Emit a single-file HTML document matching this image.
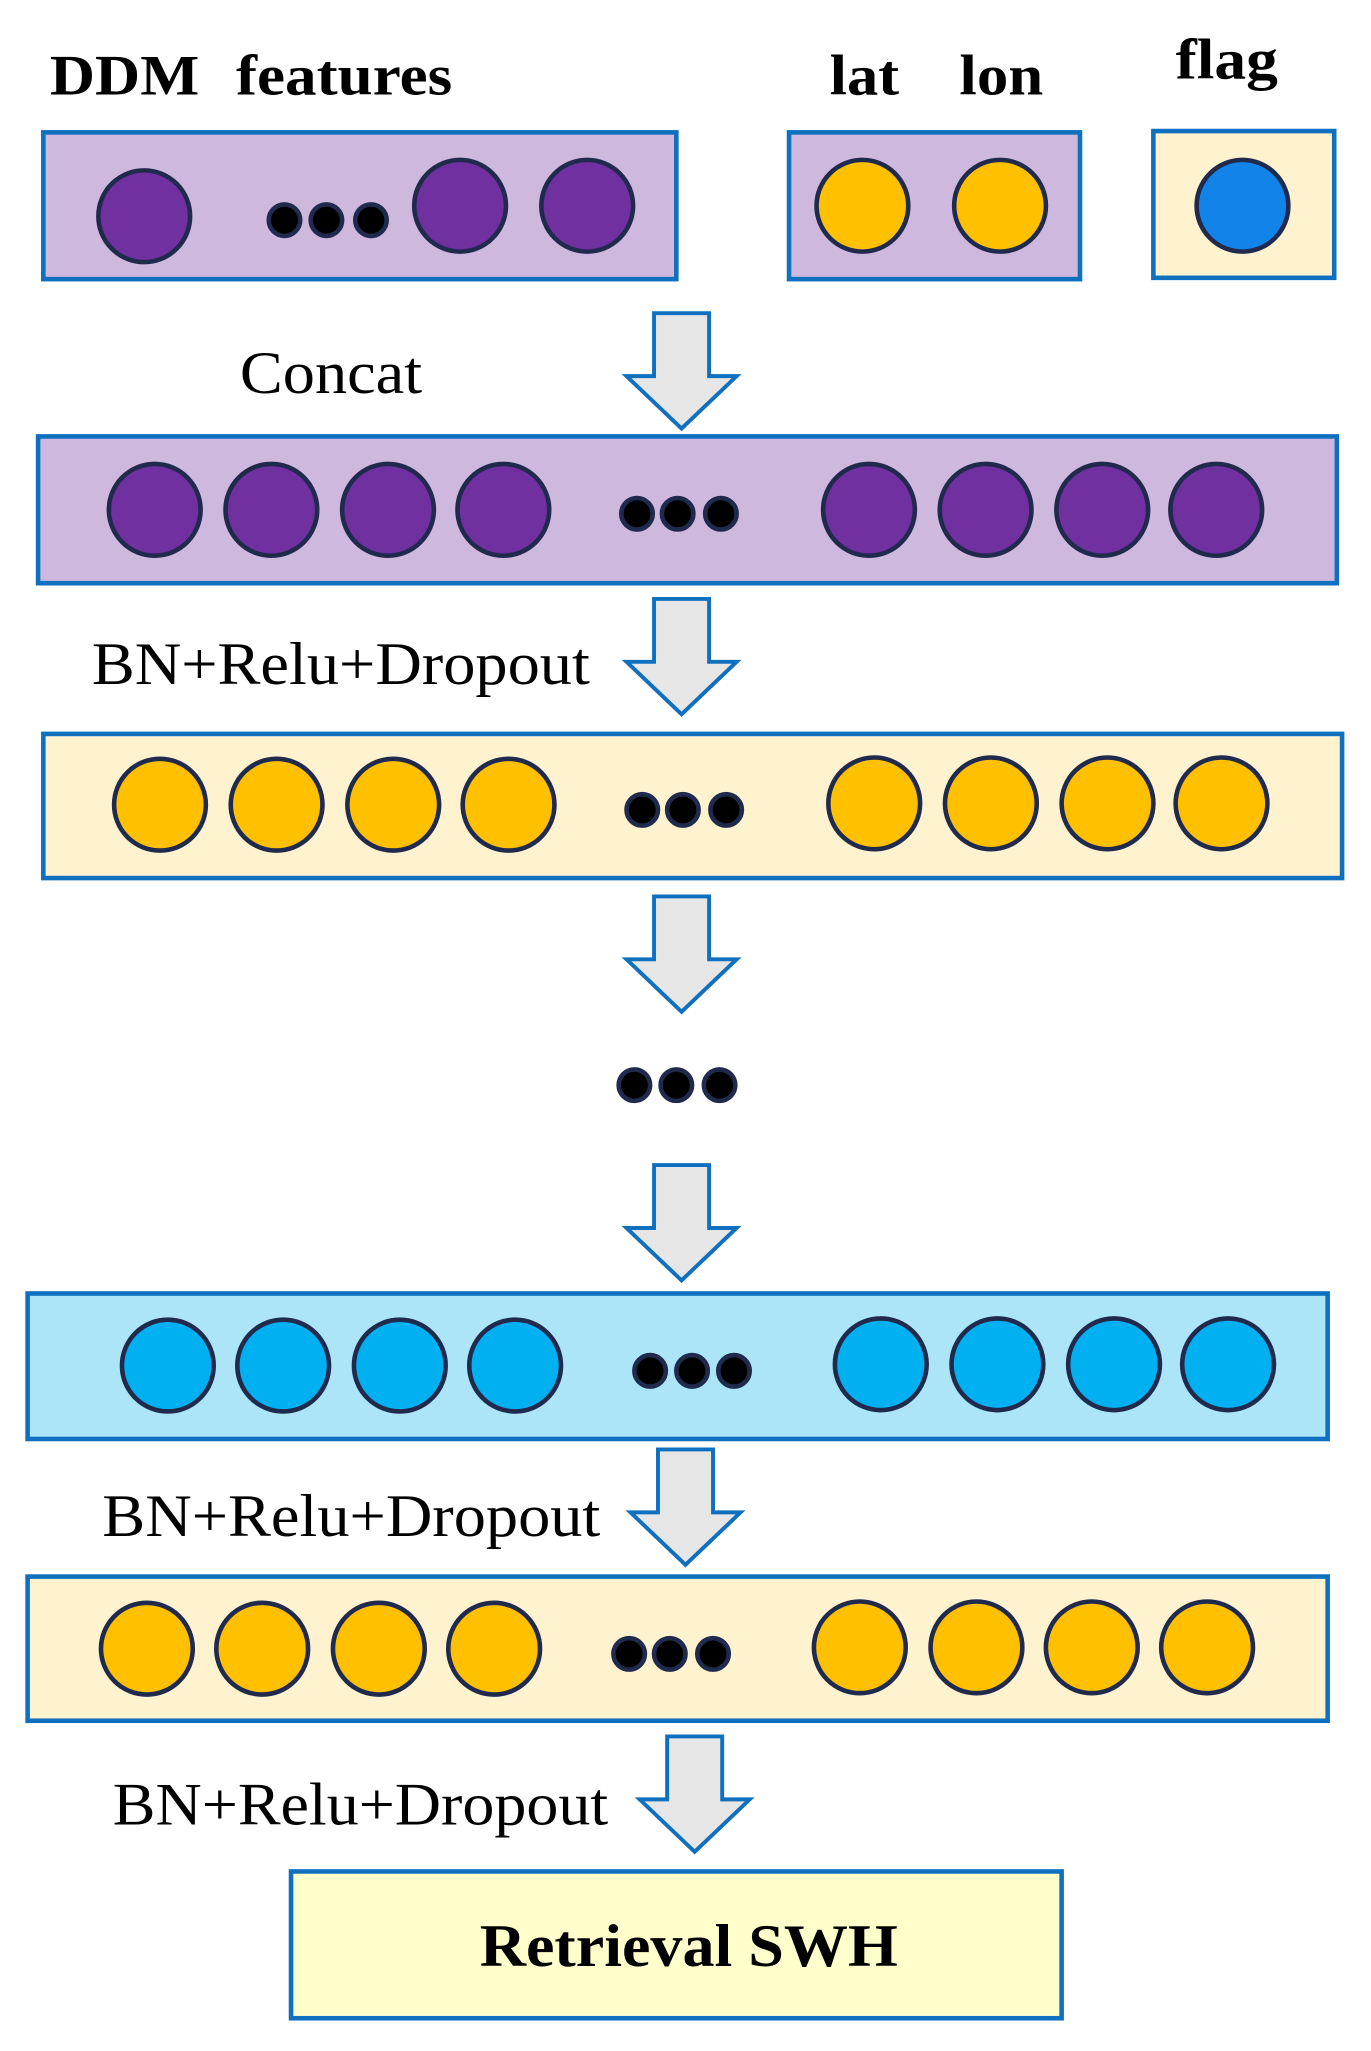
<!DOCTYPE html>
<html><head><style>html,body{margin:0;padding:0;background:#fff}svg{display:block}</style></head>
<body>
<svg width="1371" height="2051" viewBox="0 0 1046 1565" xmlns="http://www.w3.org/2000/svg">
<defs>
<g id="arr"><path d="M-21,0 L21,0 L21,48 L42,48 L0,88 L-42,48 L-21,48 Z" fill="#e6e6e6" stroke="#1070c0" stroke-width="3" stroke-linejoin="miter"/></g>
</defs>
<g font-family="Liberation Serif, serif" fill="#000">
<text x="38" y="72" font-size="44" font-weight="bold" textLength="114" lengthAdjust="spacingAndGlyphs">DDM</text>
<text x="180" y="72" font-size="44" font-weight="bold" textLength="165" lengthAdjust="spacingAndGlyphs">features</text>
<text x="633" y="72" font-size="44" font-weight="bold" textLength="53" lengthAdjust="spacingAndGlyphs">lat</text>
<text x="732" y="72" font-size="44" font-weight="bold" textLength="64" lengthAdjust="spacingAndGlyphs">lon</text>
<text x="897" y="60" font-size="44" font-weight="bold" textLength="78" lengthAdjust="spacingAndGlyphs">flag</text>
<text x="183" y="300" font-size="46" textLength="139" lengthAdjust="spacingAndGlyphs">Concat</text>
<text x="70" y="522" font-size="46" textLength="380" lengthAdjust="spacingAndGlyphs">BN+Relu+Dropout</text>
<text x="78" y="1172" font-size="46" textLength="380" lengthAdjust="spacingAndGlyphs">BN+Relu+Dropout</text>
<text x="86" y="1392" font-size="46" textLength="378" lengthAdjust="spacingAndGlyphs">BN+Relu+Dropout</text>
</g>
<g stroke="#1070c0" stroke-width="3.5">
<rect x="33" y="101" width="483" height="112" fill="#cfb8de"/>
<rect x="602" y="101" width="222" height="112" fill="#cfb8de"/>
<rect x="880" y="100" width="138" height="112" fill="#fff2cf"/>
<rect x="29" y="333" width="991" height="112" fill="#cfb8de"/>
<rect x="33" y="560" width="991" height="110" fill="#fff2cf"/>
<rect x="21" y="987" width="992" height="111" fill="#ade5f8"/>
<rect x="21" y="1203" width="992" height="110" fill="#fff2cf"/>
<rect x="222" y="1428" width="588" height="112" fill="#ffffcc"/>
</g>
<g stroke="#1f2a4d" stroke-width="3.5">
<g fill="#7030a0">
<circle cx="110" cy="165" r="35"/><circle cx="351" cy="157" r="35"/><circle cx="448" cy="157" r="35"/>
<circle cx="118" cy="389" r="35"/><circle cx="207" cy="389" r="35"/><circle cx="296" cy="389" r="35"/><circle cx="384" cy="389" r="35"/>
<circle cx="663" cy="389" r="35"/><circle cx="752" cy="389" r="35"/><circle cx="841" cy="389" r="35"/><circle cx="928" cy="389" r="35"/>
</g>
<g fill="#ffc000">
<circle cx="658" cy="157" r="35"/><circle cx="763" cy="157" r="35"/>
<circle cx="122" cy="614" r="35"/><circle cx="211" cy="614" r="35"/><circle cx="300" cy="614" r="35"/><circle cx="388" cy="614" r="35"/>
<circle cx="667" cy="613" r="35"/><circle cx="756" cy="613" r="35"/><circle cx="845" cy="613" r="35"/><circle cx="932" cy="613" r="35"/>
<circle cx="112" cy="1258" r="35"/><circle cx="200" cy="1258" r="35"/><circle cx="289" cy="1258" r="35"/><circle cx="377" cy="1258" r="35"/>
<circle cx="656" cy="1257" r="35"/><circle cx="745" cy="1257" r="35"/><circle cx="833" cy="1257" r="35"/><circle cx="921" cy="1257" r="35"/>
</g>
<circle cx="948" cy="157" r="35" fill="#1283e8"/>
<g fill="#00b0f0">
<circle cx="128" cy="1042" r="35"/><circle cx="216" cy="1042" r="35"/><circle cx="305" cy="1042" r="35"/><circle cx="393" cy="1042" r="35"/>
<circle cx="672" cy="1041" r="35"/><circle cx="761" cy="1041" r="35"/><circle cx="850" cy="1041" r="35"/><circle cx="937" cy="1041" r="35"/>
</g>
<g fill="#000">
<circle cx="217" cy="168" r="12"/><circle cx="249" cy="168" r="12"/><circle cx="283" cy="168" r="12"/>
<circle cx="486" cy="392" r="12"/><circle cx="517" cy="392" r="12"/><circle cx="550" cy="392" r="12"/>
<circle cx="490" cy="618" r="12"/><circle cx="521" cy="618" r="12"/><circle cx="554" cy="618" r="12"/>
<circle cx="484" cy="828" r="12"/><circle cx="516" cy="828" r="12"/><circle cx="549" cy="828" r="12"/>
<circle cx="496" cy="1046" r="12"/><circle cx="528" cy="1046" r="12"/><circle cx="560" cy="1046" r="12"/>
<circle cx="480" cy="1262" r="12"/><circle cx="511" cy="1262" r="12"/><circle cx="544" cy="1262" r="12"/>
</g>
</g>
<use href="#arr" transform="translate(520,239)"/>
<use href="#arr" transform="translate(520,457)"/>
<use href="#arr" transform="translate(520,684)"/>
<use href="#arr" transform="translate(520,889)"/>
<use href="#arr" transform="translate(523,1106)"/>
<use href="#arr" transform="translate(530,1325)"/>
<text x="366" y="1500" font-family="Liberation Serif, serif" font-size="46" font-weight="bold" textLength="319" lengthAdjust="spacingAndGlyphs">Retrieval SWH</text>
</svg>
</body></html>
